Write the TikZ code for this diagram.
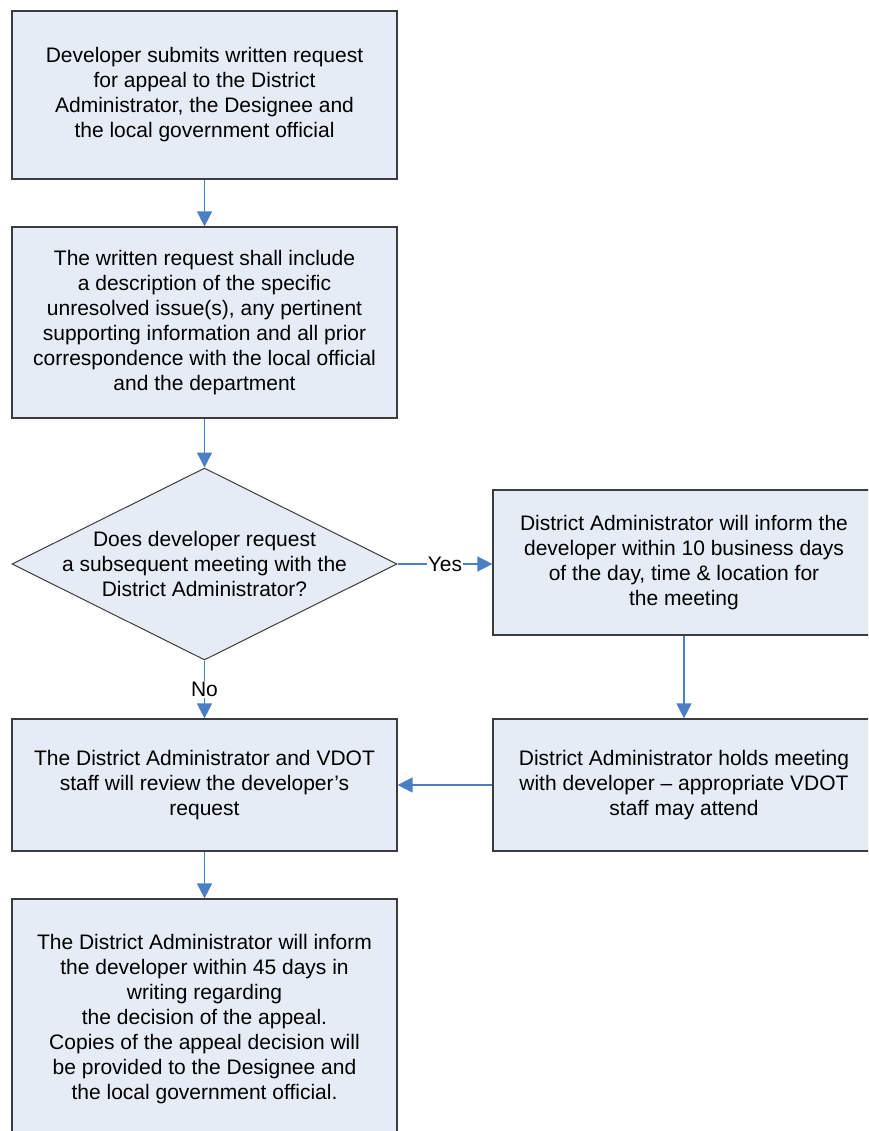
\documentclass[tikz,border=0pt]{standalone}
\usepackage{fontspec}
\setmainfont{Liberation Sans}
\usetikzlibrary{shapes.geometric,arrows.meta}
\definecolor{boxfill}{HTML}{E6ECF6}
\definecolor{boxline}{HTML}{3C3C3C}
\definecolor{flow}{HTML}{4A7EC5}
\tikzset{
  every node/.style={font=\fontsize{21pt}{25pt}\selectfont},
  procbox/.style={draw=boxline, fill=boxfill, line width=1.2pt, rectangle,
    minimum width=385pt, align=center, inner sep=0pt},
  decbox/.style={draw=boxline, fill=boxfill, line width=1pt, diamond,
    minimum width=385pt, minimum height=192pt, inner sep=0pt},
  flowline/.style={draw=flow, line width=1.3pt,
    -{Triangle[width=15pt,length=15pt]}},
  edgelabel/.style={fill=white, inner sep=1pt, text=black}
}
\begin{document}
\begin{tikzpicture}[x=1pt,y=-1pt]
\useasboundingbox (0,0) rectangle (868,1131);
\clip (0,0) rectangle (868,1131);

\node[procbox, minimum height=168pt] (submit) at (204.5,95)
  {Developer submits written request\\for appeal to the District\\Administrator, the Designee and\\the local government official};

\node[procbox, minimum height=191pt] (content) at (204.5,322.5)
  {The written request shall include\\a description of the specific\\unresolved issue(s), any pertinent\\supporting information and all prior\\correspondence with the local official\\and the department};

\node[decbox] (meetq) at (204.5,564) {};
\node[align=center, inner sep=0pt] (meetqtext) at (meetq.center)
  {Does developer request\\a subsequent meeting with the\\District Administrator?};

\node[procbox, minimum height=145pt, minimum width=382pt] (inform) at (684,562.5)
  {District Administrator will inform the\\developer within 10 business days\\of the day, time \& location for\\the meeting};

\node[procbox, minimum height=132pt, minimum width=382pt] (holds) at (684,785)
  {District Administrator holds meeting\\with developer – appropriate VDOT\\staff may attend};

\node[procbox, minimum height=132pt] (review) at (204.5,785)
  {The District Administrator and VDOT\\staff will review the developer’s\\request};

\node[procbox, minimum height=240pt] (decision) at (204.5,1019)
  {The District Administrator will inform\\the developer within 45 days in\\writing regarding\\the decision of the appeal.\\Copies of the appeal decision will\\be provided to the Designee and\\the local government official.};

\draw[flowline] (submit.south) -- (content.north);
\draw[flowline] (content.south) -- (meetq.north);
\draw[flowline] (meetq.east) -- node[edgelabel] {Yes} (inform.west |- meetq.east);
\draw[flowline] (meetq.south) -- node[edgelabel] {No} (review.north);
\draw[flowline] (inform.south) -- (holds.north);
\draw[flowline] (holds.west) -- (review.east);
\draw[flowline] (review.south) -- (decision.north);
\end{tikzpicture}
\end{document}
